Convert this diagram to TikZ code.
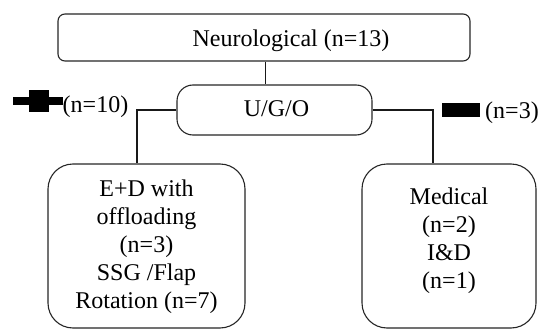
\documentclass[tikz,border=0pt]{standalone}
\usepackage{fontspec}
\setmainfont{Liberation Serif}
\begin{document}
\begin{tikzpicture}[x=1pt,y=-1pt,
  box/.style={draw=black!85,line width=1.1pt,fill=white,inner sep=0pt},
  txt/.style={font=\fontsize{24}{28}\selectfont,align=center,inner sep=0pt},
  link/.style={draw=black!90,line width=1.1pt}]
\useasboundingbox (0,0) rectangle (538,329);
% boxes
\node[box,rounded corners=7pt,minimum width=412pt,minimum height=47pt] (top) at (264,37.5) {};
\node[box,rounded corners=16pt,minimum width=195pt,minimum height=50pt] (ugo) at (274.5,110) {};
\node[box,rounded corners=25pt,minimum width=197pt,minimum height=164pt] (left) at (146.5,246) {};
\node[box,rounded corners=25pt,minimum width=174pt,minimum height=164pt] (right) at (449,246) {};
% texts
\node[txt,anchor=base] (toptxt) at (291,47) {Neurological (n=13)};
\node[txt,anchor=base] (ugotxt) at (276.5,116) {U/G/O};
\node[txt,anchor=north] (lefttxt) at (146.5,179.6) {E+D with\\offloading\\(n=3)\\SSG /Flap\\Rotation (n=7)};
\node[txt,anchor=north] (righttxt) at (449,187.6) {Medical\\(n=2)\\I\&D\\(n=1)};
\node[txt,anchor=base] (n10) at (95.5,112) {(n=10)};
\node[txt,anchor=base] (n3) at (512,118) {(n=3)};
% connector guides
\coordinate (c1) at (265.5,0);
\coordinate (cl) at (137,0);
\coordinate (cr) at (433,0);
\draw[link] (top.south -| c1) -- (ugo.north -| c1);
\draw[link] (ugo.west) -| (left.north -| cl);
\draw[link] (ugo.east) -| (right.north -| cr);
% symbols
\fill[black] (13,97) rectangle (63,105);
\fill[black] (29,90) rectangle (49,112);
\fill[black] (442,103) rectangle (480,117);
\end{tikzpicture}
\end{document}
